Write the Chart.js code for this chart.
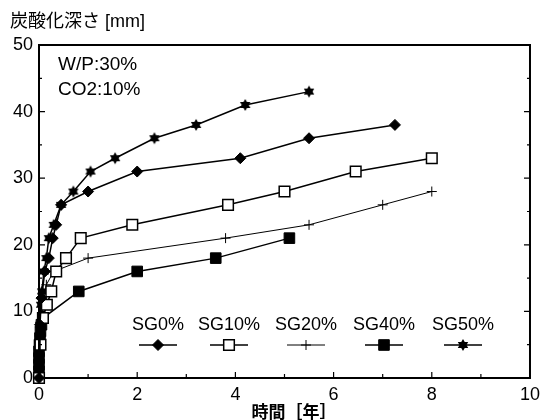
<!DOCTYPE html>
<html lang="ja">
<head>
  <meta charset="UTF-8">
  <title>炭酸化深さ</title>
  <script src="https://cdn.jsdelivr.net/npm/chart.js"></script>
  <style>
    body {
      margin: 0;
      padding: 0;
      background-color: #fff;
    }
  </style>
</head>
<body>
  <canvas id="carbChart" width="546" height="420"></canvas>

  <script>
    // Values (time in years, depth in mm)
    const seriesNames = ['SG0%', 'SG10%', 'SG20%', 'SG40%', 'SG50%'];

    const timeSG0 = [0, 0.02, 0.05, 0.12, 0.2, 0.28, 0.35, 0.45, 1.0, 2.0, 4.1, 5.5, 7.25];
    const depthSG0 = [0, 8, 12, 16, 18, 21, 23, 26, 28, 31, 33, 36, 38];

    const timeSG10 = [0, 0.03, 0.08, 0.16, 0.25, 0.35, 0.55, 0.85, 1.9, 3.85, 5.0, 6.45, 8.0];
    const depthSG10 = [0, 5, 9, 11, 13, 16, 18, 21, 23, 26, 28, 31, 33];

    const timeSG20 = [0, 0.03, 0.08, 0.15, 0.3, 1.0, 3.8, 5.5, 7.0, 8.0];
    const depthSG20 = [0, 8, 11, 14, 16, 18, 21, 23, 26, 28];

    const timeSG40 = [0, 0, 0, 0, 0, 0.01, 0.02, 0.03, 0.05, 0.08, 0.81, 2.0, 3.6, 5.1];
    const depthSG40 = [0, 1, 2, 3, 4, 5, 6, 7, 8, 9, 13, 16, 18, 21];

    const timeSG50 = [0, 0.02, 0.04, 0.06, 0.1, 0.15, 0.2, 0.3, 0.45, 0.7, 1.05, 1.55, 2.35, 3.2, 4.2, 5.5];
    const depthSG50 = [0, 8, 11, 13, 16, 18, 21, 23, 26, 28, 31, 33, 36, 38, 41, 43];

    const xTicks = [0, 2, 4, 6, 8, 10];
    const yTicks = [0, 10, 20, 30, 40, 50];

    const yTitle = '炭酸化深さ [mm]';
    const xTitle = '時間［年］';
    const noteLines = ['W/P:30%', 'CO2:10%'];

    const latin = '"Liberation Sans", Arial, sans-serif';
    const cjk = '"Noto Sans CJK JP", "Noto Sans", sans-serif';

    // filled six-point star used for SG50%
    function makeStar(r) {
      const size = Math.ceil(r * 2 + 2);
      const c = document.createElement('canvas');
      c.width = size;
      c.height = size;
      const g = c.getContext('2d');
      g.beginPath();
      for (let i = 0; i < 12; i++) {
        const a = -Math.PI / 2 + i * Math.PI / 6;
        const rr = i % 2 === 0 ? r : r * 0.58;
        g.lineTo(size / 2 + rr * Math.cos(a), size / 2 + rr * Math.sin(a));
      }
      g.closePath();
      g.fillStyle = '#000';
      g.fill();
      return c;
    }
    const starImg = makeStar(6);

    function pts(xs, ys) {
      return xs.map((x, i) => ({ x: x, y: ys[i] }));
    }

    const markers = [
      { pointStyle: 'rectRot', radius: 5.5, fill: '#000', borderWidth: 1 },
      { pointStyle: 'rect', radius: 7.5, fill: '#fff', borderWidth: 1.5 },
      { pointStyle: 'cross', radius: 5, fill: '#000', borderWidth: 1 },
      { pointStyle: 'rect', radius: 7.5, fill: '#000', borderWidth: 1 },
      { pointStyle: starImg, radius: 6, fill: '#000', borderWidth: 1 }
    ];

    const allData = [
      pts(timeSG0, depthSG0),
      pts(timeSG10, depthSG10),
      pts(timeSG20, depthSG20),
      pts(timeSG40, depthSG40),
      pts(timeSG50, depthSG50)
    ];

    const datasets = allData.map((d, i) => ({
      label: seriesNames[i],
      data: d,
      showLine: true,
      borderColor: '#000',
      borderWidth: i === 2 ? 1 : 1.5,
      pointStyle: markers[i].pointStyle,
      pointRadius: markers[i].radius,
      pointBackgroundColor: markers[i].fill,
      pointBorderColor: '#000',
      pointBorderWidth: markers[i].borderWidth,
      clip: false
    }));

    // frame, inward ticks, texts and legend
    const decor = {
      id: 'decor',
      afterDraw(chart) {
        const ctx = chart.ctx;
        const a = chart.chartArea;
        const xs = chart.scales.x;
        const ys = chart.scales.y;
        ctx.save();
        ctx.strokeStyle = '#000';
        ctx.lineWidth = 2;
        ctx.strokeRect(a.left, a.top, a.right - a.left, a.bottom - a.top);

        ctx.lineWidth = 1.2;
        ctx.beginPath();
        for (let v = 0; v <= 10; v++) {
          const px = xs.getPixelForValue(v);
          const len = v % 2 === 0 ? 6 : 4;
          ctx.moveTo(px, a.bottom);
          ctx.lineTo(px, a.bottom - len);
        }
        for (let v = 0; v <= 50; v += 5) {
          const py = ys.getPixelForValue(v);
          const len = v % 10 === 0 ? 6 : 3;
          ctx.moveTo(a.left, py);
          ctx.lineTo(a.left + len, py);
          ctx.moveTo(a.right, py);
          ctx.lineTo(a.right - len, py);
        }
        ctx.stroke();

        ctx.fillStyle = '#000';
        ctx.textBaseline = 'alphabetic';
        ctx.textAlign = 'left';
        ctx.font = '18px ' + latin.replace('sans-serif', cjk);
        ctx.fillText(yTitle, 10, 27);

        ctx.font = '19px ' + latin;
        ctx.fillText(noteLines[0], 58, 70);
        ctx.fillText(noteLines[1], 58, 95);

        ctx.textAlign = 'center';
        ctx.font = 'bold 17px ' + cjk;
        ctx.fillText(xTitle, 294, 418);

        // legend: label over a short line with its marker
        const centers = [158, 229, 306, 384, 463];
        chart.data.datasets.forEach((ds, i) => {
          const cx = centers[i];
          ctx.font = '18px ' + latin;
          ctx.fillStyle = '#000';
          ctx.fillText(ds.label, cx, 330);
          ctx.lineWidth = ds.borderWidth;
          ctx.beginPath();
          ctx.moveTo(cx - 19, 345);
          ctx.lineTo(cx + 19, 345);
          ctx.stroke();
          ctx.fillStyle = markers[i].fill;
          ctx.lineWidth = markers[i].borderWidth;
          Chart.helpers.drawPoint(ctx, {
            pointStyle: markers[i].pointStyle,
            radius: markers[i].radius,
            rotation: 0,
            borderWidth: markers[i].borderWidth
          }, cx, 345);
        });
        ctx.restore();
      }
    };

    new Chart(document.getElementById('carbChart'), {
      type: 'scatter',
      data: { datasets: datasets },
      options: {
        responsive: false,
        animation: false,
        layout: { padding: { top: 45, right: 13, left: 0, bottom: 0 } },
        plugins: {
          legend: { display: false },
          tooltip: { enabled: false }
        },
        scales: {
          x: {
            type: 'linear',
            min: 0,
            max: 10,
            grid: { display: false, drawTicks: false },
            border: { display: false },
            afterFit(scale) { scale.height = 42; },
            afterBuildTicks(scale) { scale.ticks = xTicks.map(v => ({ value: v })); },
            ticks: {
              color: '#000',
              padding: 6,
              font: { family: latin, size: 18 }
            }
          },
          y: {
            type: 'linear',
            min: 0,
            max: 50,
            grid: { display: false, drawTicks: false },
            border: { display: false },
            afterFit(scale) { scale.width = 39; },
            afterBuildTicks(scale) { scale.ticks = yTicks.map(v => ({ value: v })); },
            ticks: {
              color: '#000',
              padding: 6,
              font: { family: latin, size: 18 }
            }
          }
        }
      },
      plugins: [decor]
    });
  </script>
</body>
</html>
